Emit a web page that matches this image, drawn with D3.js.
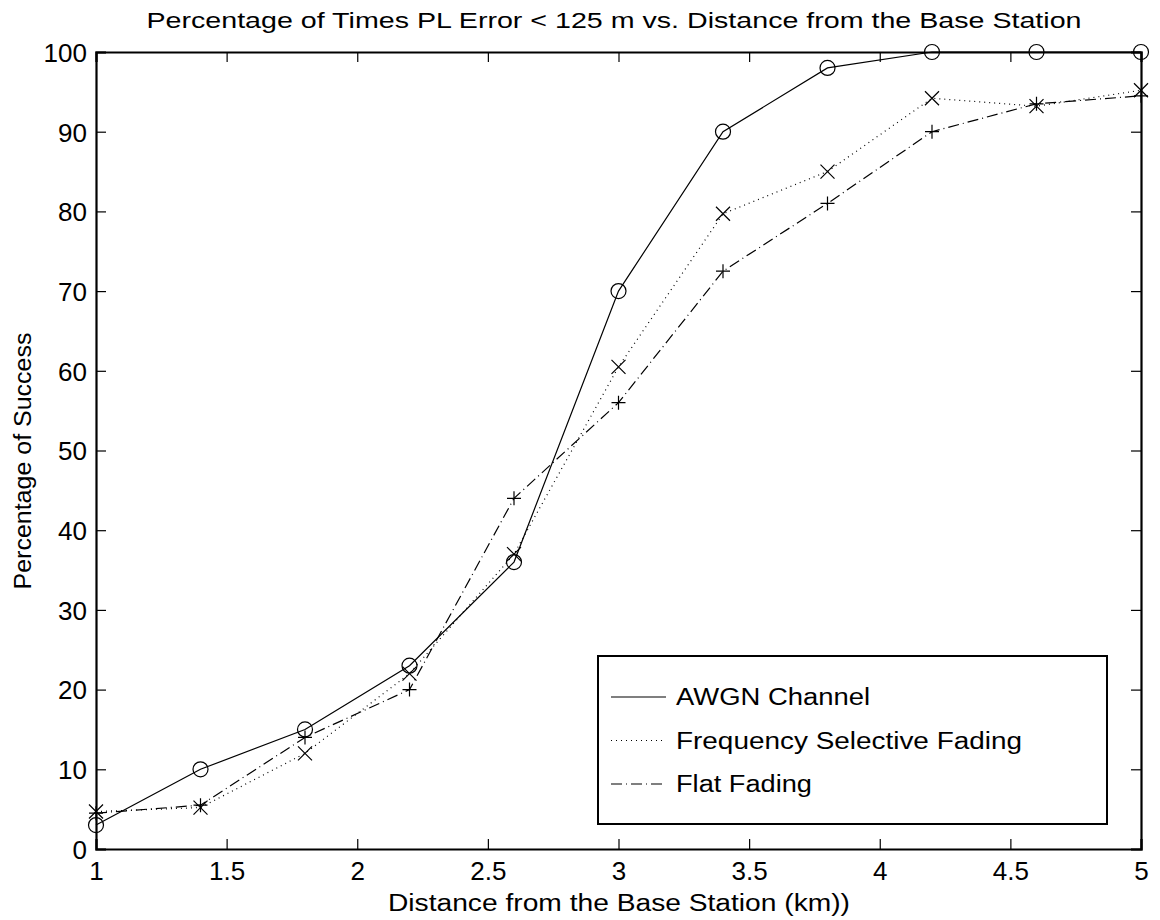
<!DOCTYPE html>
<html>
<head>
<meta charset="utf-8">
<script src="https://cdn.jsdelivr.net/npm/d3@7"></script>
<style>
  body { margin: 0; background: #fff; }
  svg { font-family: 'Liberation Sans', Arial, Helvetica, sans-serif; }
  .line { fill: none; stroke: #000; stroke-width: 1.2; }
  .marker { fill: none; stroke: #000; stroke-width: 1.2; }
</style>
</head>
<body>
<svg id="chart" width="1160" height="920"></svg>
<script>
// distance from base station (km)
const distances = [1, 1.4, 1.8, 2.2, 2.6, 3, 3.4, 3.8, 4.2, 4.6, 5];
const awgn = [3, 10, 15, 23, 36, 70, 90, 98, 100, 100, 100];
const freqSelective = [4.7, 5.2, 12, 22, 37, 60.5, 79.7, 85, 94.2, 93.2, 95.2];
const flatFading = [4.5, 5.5, 14, 20, 44, 56, 72.5, 81, 90, 93.5, 94.5];

const xTicks = [1, 1.5, 2, 2.5, 3, 3.5, 4, 4.5, 5];
const yTicks = [0, 10, 20, 30, 40, 50, 60, 70, 80, 90, 100];

const seriesNames = ['AWGN Channel', 'Frequency Selective Fading', 'Flat Fading'];

const margin = { top: 52, right: 19, bottom: 71, left: 96 };
const width = 1160, height = 920;
const chartWidth = width - margin.left - margin.right;
const chartHeight = height - margin.top - margin.bottom;

const svg = d3.select('#chart');
const g = svg.append('g').attr('transform', `translate(${margin.left}, ${margin.top})`);

const xScale = d3.scaleLinear().domain([1, 5]).range([0, chartWidth]);
const yScale = d3.scaleLinear().domain([0, 100]).range([chartHeight, 0]);

const tickLen = 10;

// bottom / left axes with labels, ticks drawn inward
const xAxis = g.append('g')
  .attr('transform', `translate(0, ${chartHeight})`)
  .call(d3.axisBottom(xScale).tickValues(xTicks).tickSize(-tickLen).tickPadding(13).tickFormat(d3.format('')));
const yAxis = g.append('g')
  .call(d3.axisLeft(yScale).tickValues(yTicks).tickSize(-tickLen).tickPadding(9));
// top / right mirrored ticks
const xTop = g.append('g')
  .call(d3.axisTop(xScale).tickValues(xTicks).tickSize(-tickLen).tickFormat(''));
const yRight = g.append('g')
  .attr('transform', `translate(${chartWidth}, 0)`)
  .call(d3.axisRight(yScale).tickValues(yTicks).tickSize(-tickLen).tickFormat(''));

[xAxis, yAxis, xTop, yRight].forEach(a => {
  a.select('.domain').attr('stroke', '#000').attr('stroke-width', 2.2);
  a.selectAll('.tick line').attr('stroke', '#000').attr('stroke-width', 1.2);
  a.selectAll('.tick text').attr('fill', '#000').attr('font-size', 26)
    .attr('font-family', "'Liberation Sans', Arial, sans-serif");
});
yAxis.selectAll('.tick text').attr('dy', '0.36em');

const series = [
  { name: seriesNames[0], values: awgn, dash: null, marker: 'circle', labelLen: 194 },
  { name: seriesNames[1], values: freqSelective, dash: '1,4', marker: 'x', labelLen: 346 },
  { name: seriesNames[2], values: flatFading, dash: '11,4,1,4', marker: 'plus', labelLen: 136 },
];

const line = d3.line()
  .x((d, i) => xScale(distances[i]))
  .y(d => yScale(d));

function drawMarker(sel, type, x, y) {
  const s = 7;
  if (type === 'circle') {
    sel.append('circle').attr('class', 'marker').attr('cx', x).attr('cy', y).attr('r', 7.5);
  } else if (type === 'x') {
    sel.append('path').attr('class', 'marker')
      .attr('d', `M${x - s},${y - s}L${x + s},${y + s}M${x - s},${y + s}L${x + s},${y - s}`);
  } else {
    sel.append('path').attr('class', 'marker')
      .attr('d', `M${x - s},${y}L${x + s},${y}M${x},${y - s}L${x},${y + s}`);
  }
}

series.forEach(s => {
  g.append('path')
    .datum(s.values)
    .attr('class', 'line')
    .attr('stroke-dasharray', s.dash)
    .attr('d', line);
  const mg = g.append('g');
  s.values.forEach((v, i) => drawMarker(mg, s.marker, xScale(distances[i]), yScale(v)));
});

// legend
const legend = svg.append('g').attr('transform', 'translate(598, 656)');
legend.append('rect')
  .attr('width', 509).attr('height', 168)
  .attr('fill', '#fff').attr('stroke', '#000').attr('stroke-width', 2);
series.forEach((s, i) => {
  const y = 41 + i * 43.5;
  legend.append('line')
    .attr('x1', 13).attr('x2', 68).attr('y1', y).attr('y2', y)
    .attr('stroke', '#000').attr('stroke-width', 1.2)
    .attr('stroke-dasharray', s.dash);
  legend.append('text')
    .attr('x', 78).attr('y', y).attr('dy', '0.36em')
    .attr('font-size', 23)
    .attr('textLength', s.labelLen).attr('lengthAdjust', 'spacingAndGlyphs')
    .text(s.name);
});

// titles
svg.append('text')
  .attr('x', 614).attr('y', 28)
  .attr('text-anchor', 'middle').attr('font-size', 22)
  .attr('textLength', 935).attr('lengthAdjust', 'spacingAndGlyphs')
  .text('Percentage of Times PL Error < 125 m vs. Distance from the Base Station');

svg.append('text')
  .attr('x', 619).attr('y', 911)
  .attr('text-anchor', 'middle').attr('font-size', 23)
  .attr('textLength', 462).attr('lengthAdjust', 'spacingAndGlyphs')
  .text('Distance from the Base Station (km))');

svg.append('text')
  .attr('transform', 'translate(31, 461) rotate(-90)')
  .attr('text-anchor', 'middle').attr('font-size', 23)
  .attr('textLength', 257).attr('lengthAdjust', 'spacingAndGlyphs')
  .text('Percentage of Success');
</script>
</body>
</html>
